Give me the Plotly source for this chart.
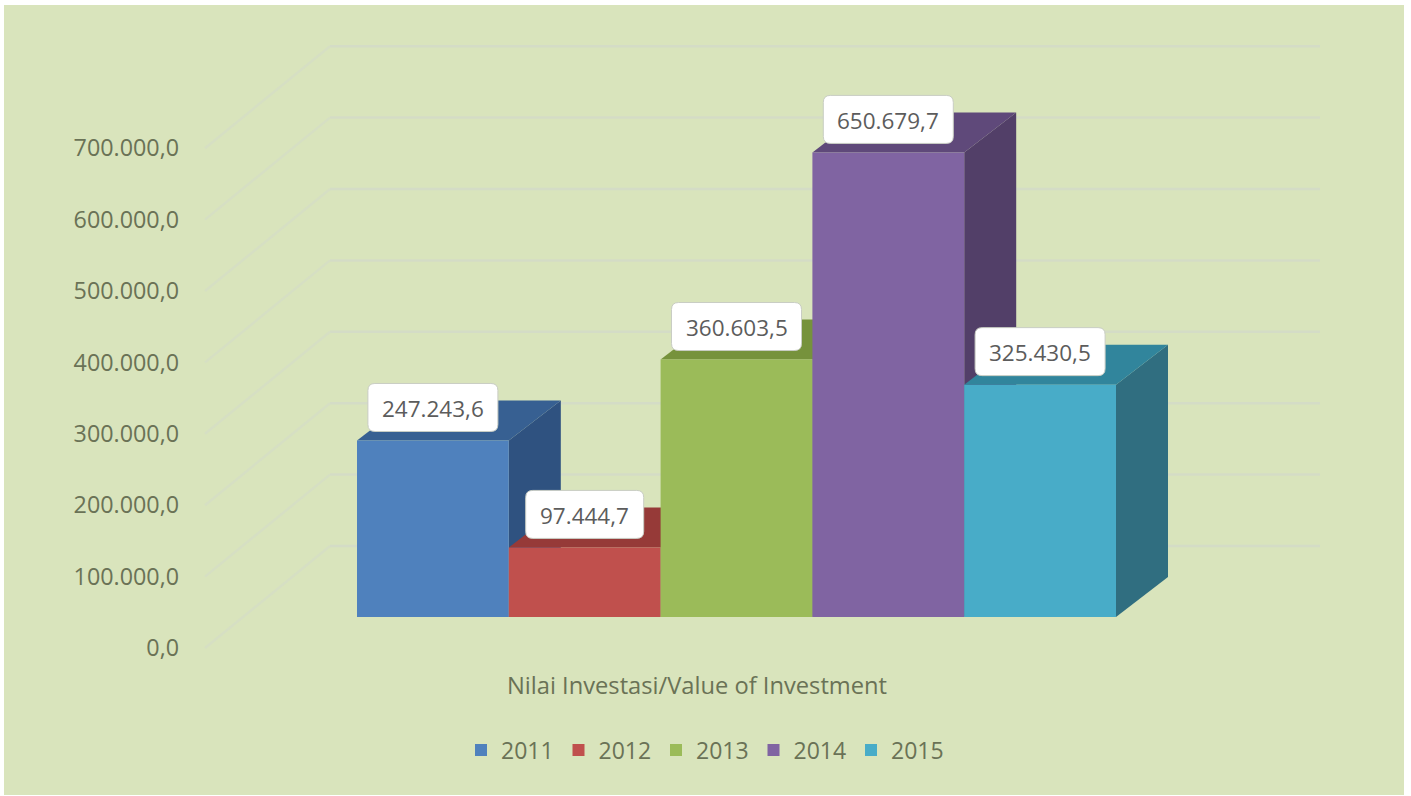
import plotly.graph_objects as go

years = ["2011", "2012", "2013", "2014", "2015"]
values = [247243.6, 97444.7, 360603.5, 650679.7, 325430.5]
front_colors = ["#4f81bd", "#c0504d", "#9bbb59", "#8064a2", "#48acc8"]
side_colors = ["#2f5280", "#8c3735", "#71893f", "#523f68", "#306e80"]
top_colors = ["#376092", "#963a38", "#76923c", "#5f497a", "#31859c"]
tick_values = [0, 100000, 200000, 300000, 400000, 500000, 600000, 700000]
category = "Nilai Investasi/Value of Investment"

# canvas geometry
L, R, T, B = 4, 1404, 5, 795
W, H = 1411, 796
PX_PER_X = 151.8
PX_PER_Y = 0.000714
BAR_LEFT_PX = 357
BAR_BASE_PX = 617
AXIS_BASE_PX = 648


def xval(px):
    return (px - BAR_LEFT_PX) / PX_PER_X - 0.5


def yspan(px):
    return px / PX_PER_Y


bar_dx, bar_dy = 52 / PX_PER_X, yspan(40)
floor_x0, floor_x1 = xval(205), xval(330)
floor_end = xval(1320)
floor_dy = yspan(102)

TEXT = "#6a7256"
FONT = "'Open Sans', Lato, sans-serif"

fig = go.Figure()

# wall and side gridlines
gx, gy, dx_, dy_ = [], [], [], []
for v in tick_values:
    gx += [floor_x1, floor_end, None]
    gy += [v + floor_dy, v + floor_dy, None]
    dx_ += [floor_x0, floor_x1, None]
    dy_ += [v, v + floor_dy, None]
fig.add_trace(go.Scatter(x=gx, y=gy, mode="lines", line=dict(color="#d4dcc6", width=2.5),
                         showlegend=False, hoverinfo="skip", xaxis="x", yaxis="y"))
fig.add_trace(go.Scatter(x=dx_, y=dy_, mode="lines", line=dict(color="#d6dfc3", width=2.5),
                         showlegend=False, hoverinfo="skip", xaxis="x", yaxis="y"))

shapes, annotations = [], []
for i, (yr, v) in enumerate(zip(years, values)):
    z = 2 * i + 1
    fig.add_trace(go.Scatter(
        x=[i + .5, i + .5 + bar_dx, i + .5 + bar_dx, i + .5, i + .5],
        y=[0, bar_dy, v + bar_dy, v, 0], mode="lines", fill="toself",
        fillcolor=side_colors[i], line=dict(width=0), showlegend=False,
        hoverinfo="skip", zorder=z, xaxis="x", yaxis="y2"))
    fig.add_trace(go.Scatter(
        x=[i - .5, i + .5, i + .5 + bar_dx, i - .5 + bar_dx, i - .5],
        y=[v, v, v + bar_dy, v + bar_dy, v], mode="lines", fill="toself",
        fillcolor=top_colors[i], line=dict(width=0), showlegend=False,
        hoverinfo="skip", zorder=z, xaxis="x", yaxis="y2"))
    fig.add_trace(go.Bar(
        x=[i], y=[v], width=1, name=yr, marker=dict(color=front_colors[i], line=dict(width=0)),
        zorder=z + 1, xaxis="x", yaxis="y2"))

    label = f"{v:,.1f}".replace(",", "#").replace(".", ",").replace("#", ".")
    hw, hh, r = (12 * len(label) + 22) / 2, 24, 7
    cy = 33
    path = (f"M{-hw + r},{cy - hh} L{hw - r},{cy - hh} Q{hw},{cy - hh} {hw},{cy - hh + r} "
            f"L{hw},{cy + hh - r} Q{hw},{cy + hh} {hw - r},{cy + hh} "
            f"L{-hw + r},{cy + hh} Q{-hw},{cy + hh} {-hw},{cy + hh - r} "
            f"L{-hw},{cy - hh + r} Q{-hw},{cy - hh} {-hw + r},{cy - hh} Z")
    shapes.append(dict(type="path", xref="x", yref="y2", xsizemode="pixel", ysizemode="pixel",
                       xanchor=i, yanchor=v, path=path, fillcolor="#ffffff",
                       line=dict(color="#c9cdc4", width=1), layer="above"))
    annotations.append(dict(x=i, y=v, xref="x", yref="y2", text=label, showarrow=False,
                            yshift=32, font=dict(family=FONT, size=22.5, color="#5c5c5c")))

fig.update_layout(
    width=W, height=H, autosize=False,
    margin=dict(l=L, r=W - R, t=T, b=H - B, pad=0),
    paper_bgcolor="#ffffff", plot_bgcolor="#d9e4bc",
    separators=",.", barmode="overlay",
    shapes=shapes, annotations=annotations,
    font=dict(family=FONT, size=22, color=TEXT),
    xaxis=dict(range=[xval(L), xval(R)], tickmode="array",
               tickvals=[xval(697)], ticktext=[category],
               anchor="free", position=(B - 669) / (B - T), showgrid=False, zeroline=False,
               showline=False, ticks="", fixedrange=True,
               tickfont=dict(family=FONT, size=23.7, color=TEXT)),
    yaxis=dict(range=[yspan(AXIS_BASE_PX - B), yspan(AXIS_BASE_PX - T)], tickmode="array",
               tickvals=tick_values, tickformat=",.1f", anchor="free",
               position=(179 - L) / (R - L), side="left", showgrid=False, zeroline=False,
               showline=False, ticks="", fixedrange=True,
               tickfont=dict(family=FONT, size=23.3, color=TEXT)),
    yaxis2=dict(range=[yspan(BAR_BASE_PX - B), yspan(BAR_BASE_PX - T)], overlaying="y",
                visible=False, fixedrange=True),
    legend=dict(orientation="h", x=(461 - L) / (R - L), xanchor="left",
                y=(B - 750) / (B - T), yanchor="middle", bgcolor="rgba(0,0,0,0)",
                entrywidth=52.5, entrywidthmode="pixels", font=dict(family=FONT, size=23, color=TEXT)),
    showlegend=True,
)

fig.write_html("out.html", config=dict(displayModeBar=False),
               post_script="document.body.style.margin='0';")
